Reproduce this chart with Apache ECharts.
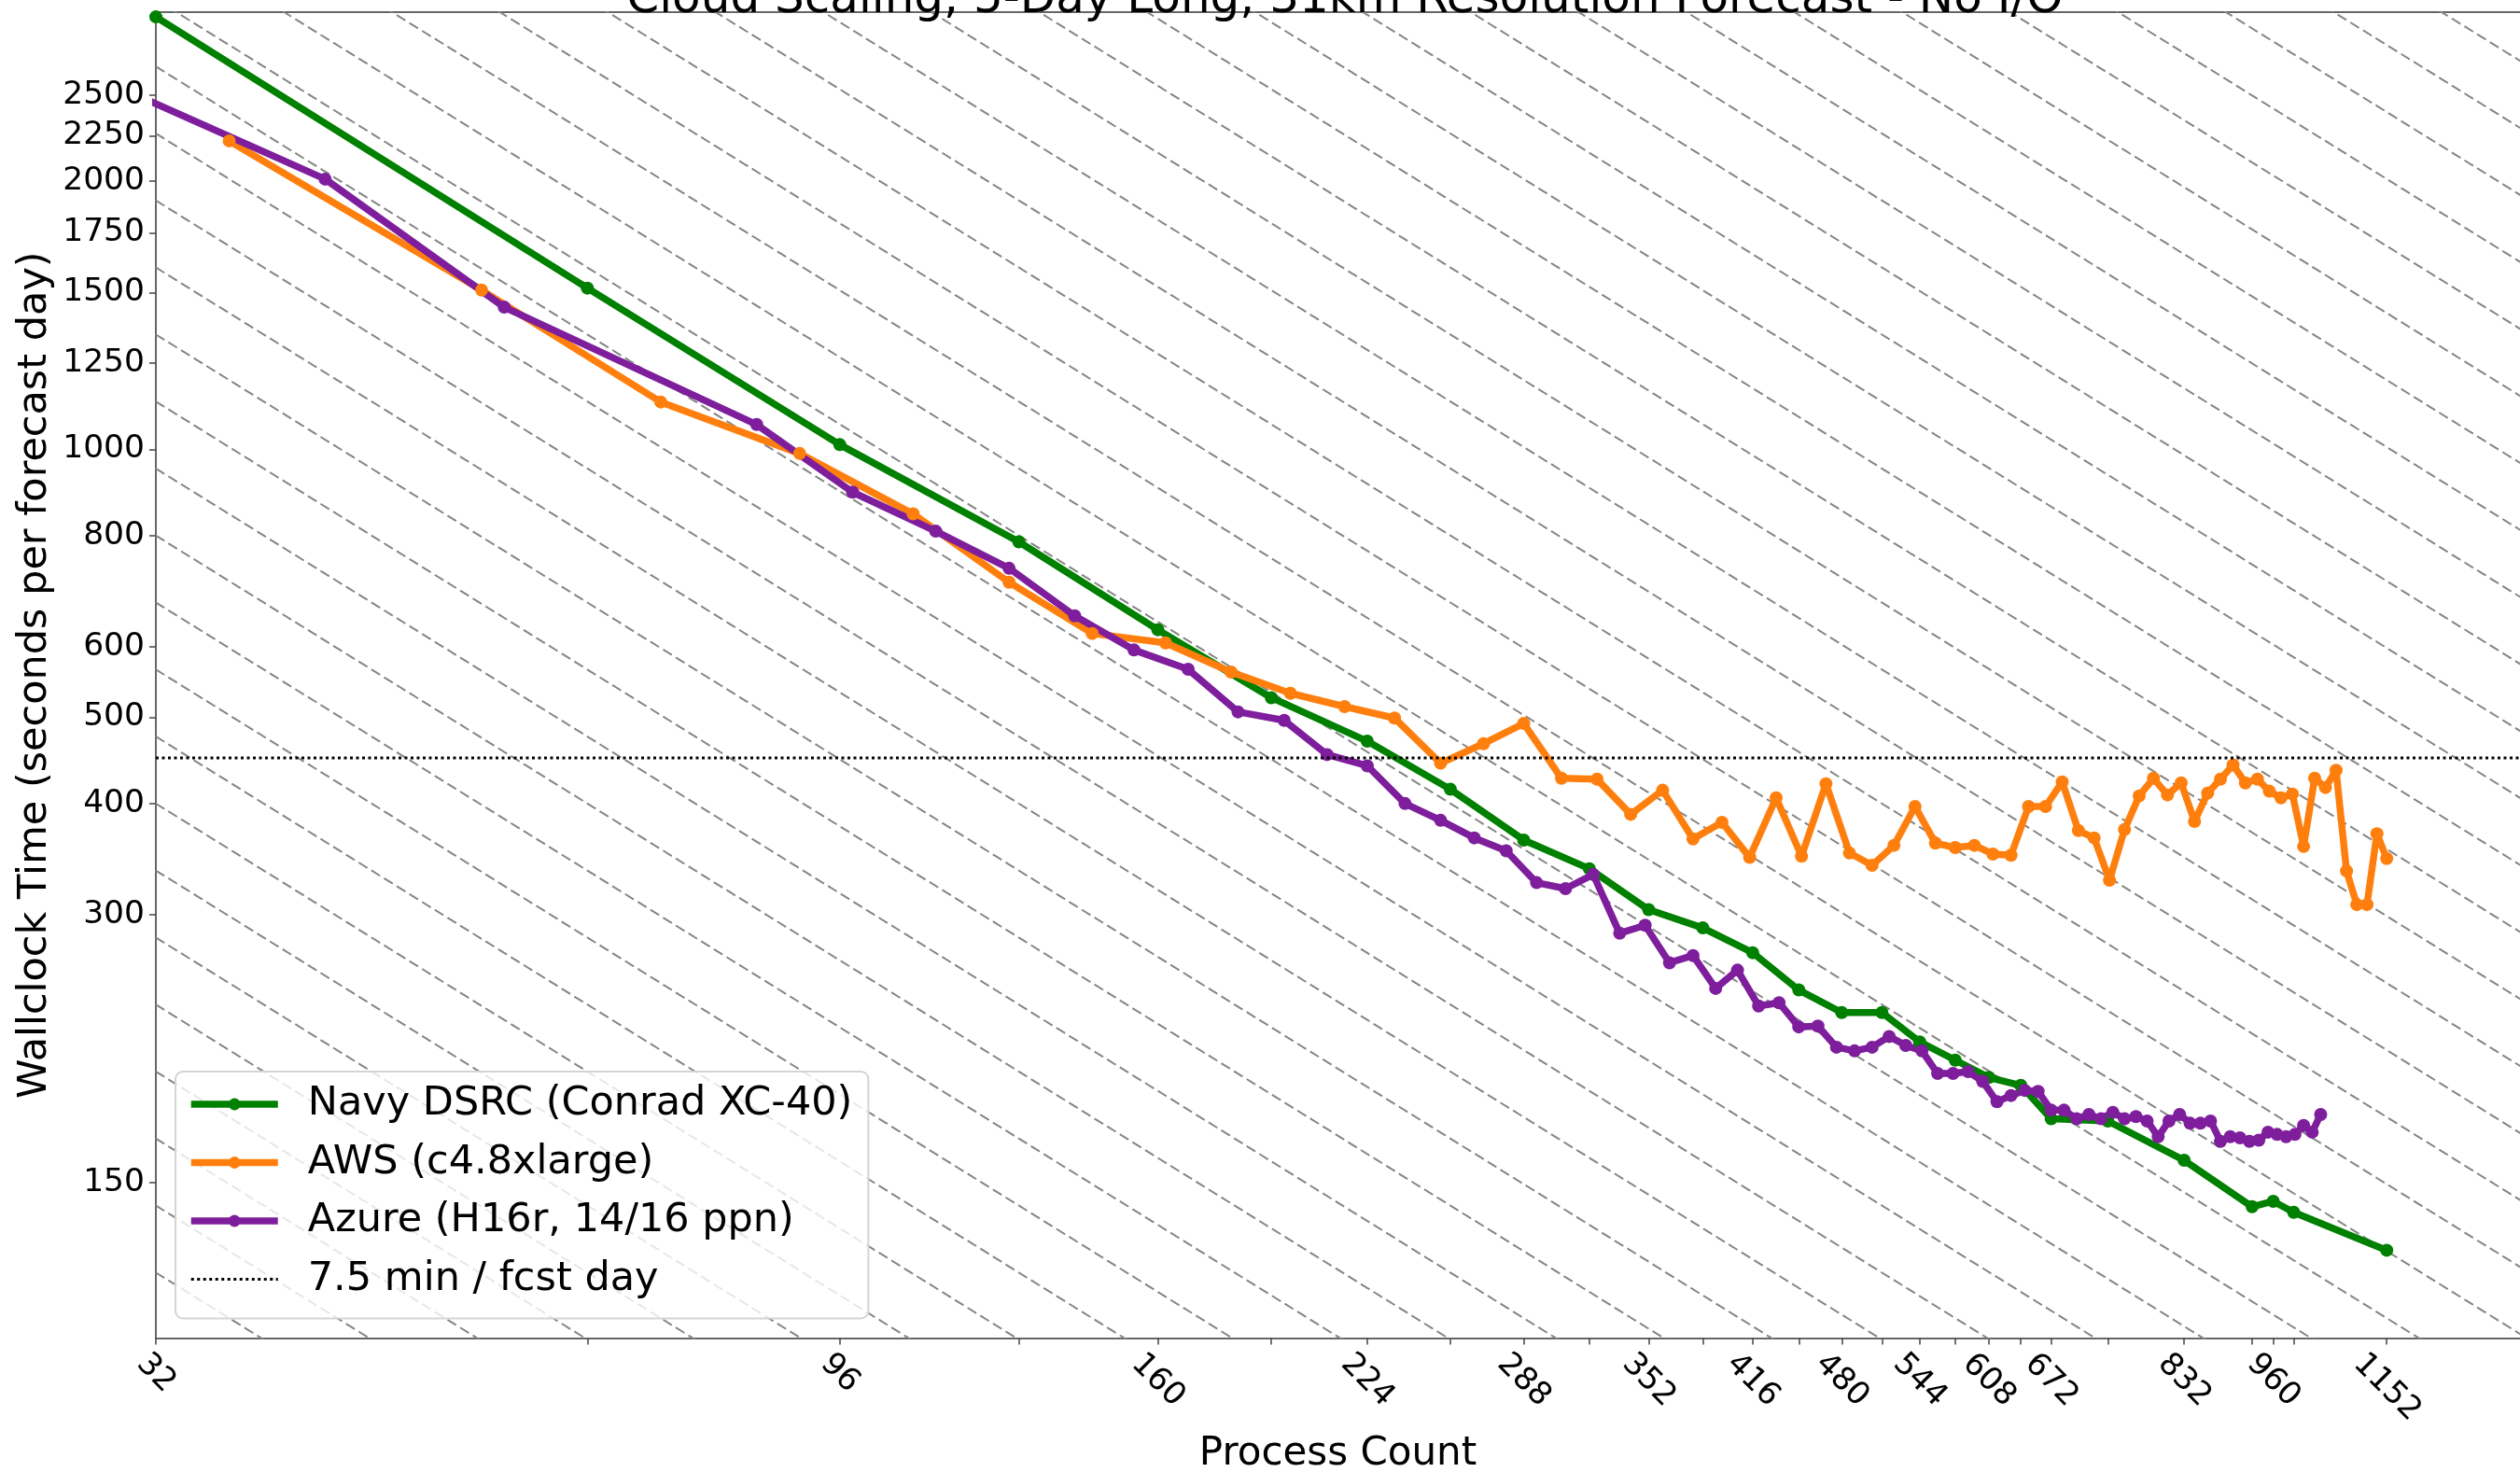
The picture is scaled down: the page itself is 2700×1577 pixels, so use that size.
<!DOCTYPE html>
<html><head><meta charset="utf-8">
<script src="https://cdn.jsdelivr.net/npm/echarts@6/dist/echarts.min.js"></script>
<style>html,body{margin:0;padding:0;background:#fff}#chart{width:2700px;height:1577px}</style>
</head><body><div id="chart"></div>
<script>
const titleText = 'Cloud Scaling, 5-Day Long, 31km Resolution Forecast - No I/O';
const xAxisName = 'Process Count';
const yAxisName = 'Wallclock Time (seconds per forecast day)';
const navyName = 'Navy DSRC (Conrad XC-40)';
const awsName = 'AWS (c4.8xlarge)';
const azureName = 'Azure (H16r, 14/16 ppn)';
const deadlineName = '7.5 min / fcst day';

const navyProcs = [32,64,96,128,160,192,224,256,288,320,352,384,416,448,480,512,544,576,608,640,672,736,832,928,960,992,1152];
const navyTimes = [3059,1517,1012,787,627,526,470,415,364,338,304,290,272,247,233,233,216,206,197,193,177,176,159,141,143,139,126];

const awsProcs = [36,54,72,90,108,126,144,162,180,198,216,234,252,270,288,306,324,342,360,378,396,414,432,450,468,486,504,522,540,558,576,594,612,630,648,666,684,702,720,738,756,774,792,810,828,846,864,882,900,918,936,954,972,990,1008,1026,1044,1062,1080,1098,1116,1134,1152];
const awsTimes = [2220,1509,1130,989,846,709,621,606,562,532,514,499,444,467,492,427,426,389,414,365,381,348,406,349,421,352,341,359,397,361,357,359,351,350,397,397,423,373,366,328,374,408,427,409,422,382,411,426,442,422,426,413,406,410,358,427,417,436,336,308,308,370,347];

const azureProcs = [28,42,56,84,98,112,126,140,154,168,182,196,210,224,238,252,266,280,294,308,322,336,350,364,378,392,406,420,434,448,462,476,490,504,518,532,546,560,574,588,602,616,630,644,658,672,686,700,714,728,742,756,770,784,798,812,826,840,854,868,882,896,910,924,938,952,966,980,994,1008,1022,1036];
const azureTimes = [2690,2011,1444,1066,895,809,735,650,595,566,507,496,454,441,400,383,366,354,326,321,333,286,292,265,270,248,260,237,239,224.5,225,213,211,213,219,214,211,199,199,200,195,185,188,190.5,190,181,181,177,179,177,180,177,178,176,169,176,179,175,175,176,167,169,168.5,167,167.5,171,170,169,170,174,171,179];

const deadlineSeconds = 450;

const xTickValues = [32,64,96,128,160,192,224,256,288,320,352,384,416,448,480,512,544,576,608,640,672,736,832,928,960,992,1152];
const xTickLabels = [32,96,160,224,288,352,416,480,544,608,672,832,960,1152];
const yTickLabels = [150,300,400,500,600,800,1000,1250,1500,1750,2000,2250,2500];

// ideal-scaling guide lines: time * procs = base * 2^(k/4)
const idealBase = 3200;
const idealStepsPerDoubling = 4;
const idealKFirst = -1, idealKLast = 42;

const X_MIN = 32, X_MAX = 1427, Y_MIN = 100.4, Y_MAX = 3097;
const FONT = 'DejaVu Sans';
const NAVY_C = '#008000', AWS_C = '#ff7f0e', AZURE_C = '#7e1e9c';
const LW = 7.5, MS = 14;

const chart = echarts.init(document.getElementById('chart'), null, {renderer: 'canvas'});

const pairs = (xs, ys) => xs.map((x, i) => [x, ys[i]]);

const series = [];
for (let k = idealKFirst; k <= idealKLast; k++) {
  const p = idealBase * Math.pow(2, k / idealStepsPerDoubling);
  const xa = 16, xb = 3000;
  series.push({
    type: 'line', name: 'ideal' + k, silent: true, symbol: 'none', z: 1,
    data: [[xa, p / xa], [xb, p / xb]],
    lineStyle: {color: '#858585', width: 2, type: [11, 5]},
    clip: true, legendHoverLink: false
  });
}
const mk = (name, xs, ys, color) => ({
  type: 'line', name, data: pairs(xs, ys), z: 3,
  symbol: 'circle', symbolSize: MS, showSymbol: true, clip: true,
  lineStyle: {color, width: LW}, itemStyle: {color}
});
series.push(mk(navyName, navyProcs, navyTimes, NAVY_C));
series.push(mk(awsName, awsProcs, awsTimes, AWS_C));
series.push(mk(azureName, azureProcs, azureTimes, AZURE_C));
series.push({
  type: 'line', name: deadlineName, symbol: 'none', z: 4,
  data: [[X_MIN, deadlineSeconds], [X_MAX, deadlineSeconds]],
  lineStyle: {color: '#000', width: 3, type: [3, 3.5]}, itemStyle: {color: '#000'}
});

const digitShift = 10.8;
const option = {
  animation: false,
  backgroundColor: '#fff',
  textStyle: {fontFamily: FONT},
  title: {
    text: titleText, left: 1436, top: -30, textAlign: 'center',
    textStyle: {fontFamily: FONT, fontSize: 50, fontWeight: 'normal', color: '#000'}
  },
  grid: {left: 167, right: 0, top: 13, bottom: 143.5, containLabel: false, outerBoundsMode: 'none'},
  legend: {
    orient: 'vertical', left: 188, top: 1148,
    data: [
      {name: navyName, lineStyle: {width: LW, color: NAVY_C}, itemStyle: {color: NAVY_C}},
      {name: awsName, lineStyle: {width: LW, color: AWS_C}, itemStyle: {color: AWS_C}},
      {name: azureName, lineStyle: {width: LW, color: AZURE_C}, itemStyle: {color: AZURE_C}},
      {name: deadlineName, lineStyle: {width: 3, color: '#000', type: [3, 3.5]}, itemStyle: {opacity: 0}}
    ],
    itemWidth: 93, itemHeight: 16, itemGap: 12.5,
    padding: [10, 17, 17, 13],
    backgroundColor: 'rgba(255,255,255,0.8)',
    borderColor: '#d4d4d4', borderWidth: 2, borderRadius: 8,
    textStyle: {fontFamily: FONT, fontSize: 43, color: '#000', lineHeight: 50, padding: [0, 0, 0, 27]},
    selectedMode: false
  },
  xAxis: [{
    type: 'log', min: X_MIN, max: X_MAX, position: 'bottom',
    name: xAxisName, nameLocation: 'middle', nameGap: 104, nameMoveOverlap: false,
    nameTextStyle: {fontFamily: FONT, fontSize: 42, color: '#000'},
    axisLine: {show: true, onZero: false, lineStyle: {color: '#666', width: 2}},
    axisTick: {show: true, length: 7, customValues: xTickValues, lineStyle: {color: '#444', width: 1.5}},
    axisLabel: {
      show: true, customValues: xTickLabels, rotate: -45, margin: 53,
      align: 'center', verticalAlign: 'middle',
      fontFamily: FONT, fontSize: 34, color: '#000',
      formatter: v => '{d' + String(Math.round(v)).length + '|' + Math.round(v) + '}',
      rich: {
        d2: {fontFamily: FONT, fontSize: 34, color: '#000', padding: [0, 2 * digitShift, 2 * digitShift, 0]},
        d3: {fontFamily: FONT, fontSize: 34, color: '#000', padding: [0, digitShift, digitShift, 0]},
        d4: {fontFamily: FONT, fontSize: 34, color: '#000'}
      }
    },
    splitLine: {show: false}, minorTick: {show: false}
  }, {
    type: 'log', min: X_MIN, max: X_MAX, position: 'top',
    axisLine: {show: true, lineStyle: {color: '#666', width: 2}},
    axisTick: {show: false}, axisLabel: {show: false}, splitLine: {show: false}
  }],
  yAxis: {
    type: 'log', min: Y_MIN, max: Y_MAX,
    name: yAxisName, nameLocation: 'middle', nameGap: 108, nameRotate: 90, nameMoveOverlap: false,
    nameTextStyle: {fontFamily: FONT, fontSize: 43, color: '#000'},
    axisLine: {show: true, onZero: false, lineStyle: {color: '#666', width: 2}},
    axisTick: {show: true, length: 7, customValues: yTickLabels, lineStyle: {color: '#444', width: 1.5}},
    axisLabel: {show: true, customValues: yTickLabels, margin: 12, fontFamily: FONT, fontSize: 34.5, color: '#000',
      formatter: v => String(Math.round(v))},
    splitLine: {show: false}
  },
  series
};
chart.setOption(option);
</script></body></html>
